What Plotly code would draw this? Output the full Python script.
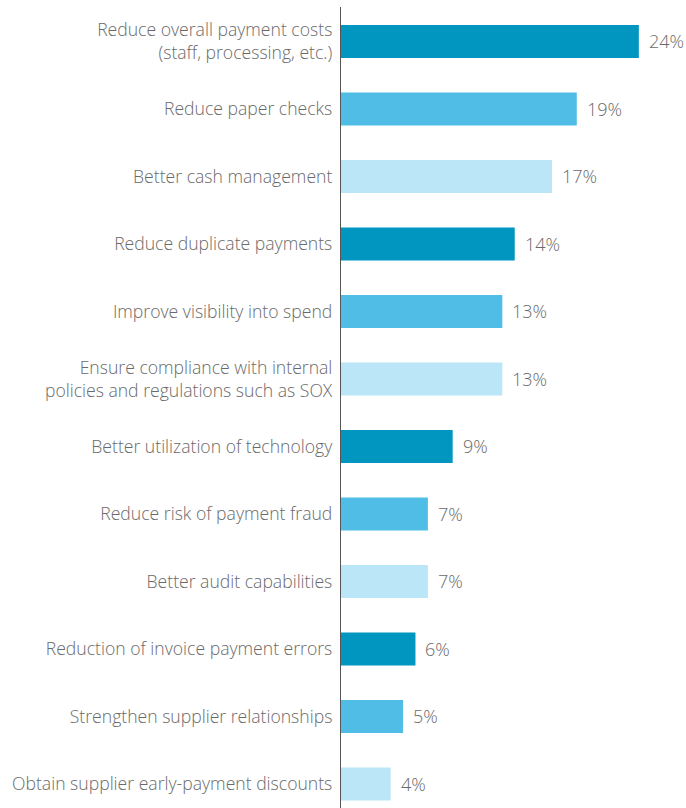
import plotly.graph_objects as go

# Survey responses: payment-process improvement goals
categories = [
    "Reduce overall payment costs<br>(staff, processing, etc.)",
    "Reduce paper checks",
    "Better cash management",
    "Reduce duplicate payments",
    "Improve visibility into spend",
    "Ensure compliance with internal<br>policies and regulations such as SOX",
    "Better utilization of technology",
    "Reduce risk of payment fraud",
    "Better audit capabilities",
    "Reduction of invoice payment errors",
    "Strengthen supplier relationships",
    "Obtain supplier early-payment discounts",
]
values = [24, 19, 17, 14, 13, 13, 9, 7, 7, 6, 5, 4]
value_labels = [f"{v}%" for v in values]

palette = ["#0096c0", "#4fbde5", "#bae6f8"]
bar_colors = [palette[i % 3] for i in range(len(values))]

FONT = "Open Sans"
TEXT_GRAY = "#6a6a6a"

fig = go.Figure(
    go.Bar(
        x=values,
        y=categories,
        orientation="h",
        marker=dict(color=bar_colors, line=dict(width=0)),
        width=0.49,
        hoverinfo="skip",
    )
)

for cat, v, lab in zip(categories, values, value_labels):
    fig.add_annotation(
        x=v, y=cat, text=lab, showarrow=False,
        xanchor="left", yanchor="middle", xshift=8,
        font=dict(family=FONT, size=18, color=TEXT_GRAY, weight=300),
    )

fig.update_layout(
    width=686, height=808,
    margin=dict(l=341, r=0, t=7, b=0),
    paper_bgcolor="white", plot_bgcolor="white",
    showlegend=False,
    bargap=0.51,
    xaxis=dict(range=[0, 27.8], visible=False, fixedrange=True),
    yaxis=dict(
        categoryorder="array", categoryarray=categories,
        range=[11.356, -0.511],
        showline=True, linecolor="#555555", linewidth=1.3,
        showgrid=False, zeroline=False, ticks="", ticklabelstandoff=4,
        tickfont=dict(family=FONT, size=17.6, color=TEXT_GRAY, weight=300),
        fixedrange=True,
    ),
)

fig.write_html("out.html")
